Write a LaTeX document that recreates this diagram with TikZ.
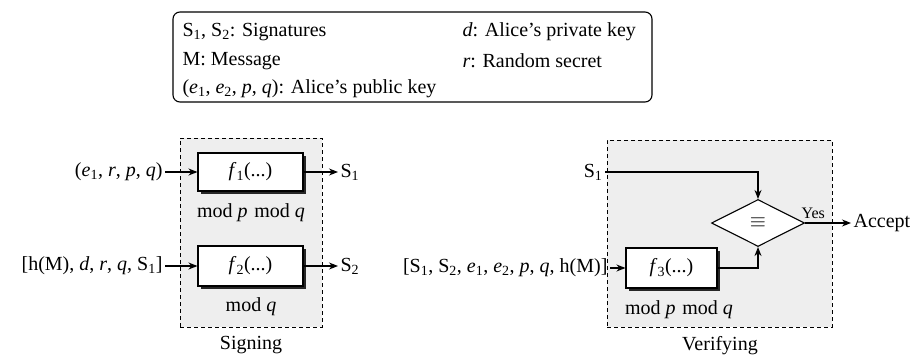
\documentclass[tikz,border=0pt]{standalone}
\usepackage{fontspec}
\setmainfont{Liberation Serif}
\usetikzlibrary{shapes.geometric, shadows, arrows.meta}

\newcommand{\vv}[1]{\textit{#1}}
\newcommand{\sub}[1]{\textsubscript{#1}}

\begin{document}
\begin{tikzpicture}[x=1pt, y=-1pt, >={Stealth[length=9pt, width=7pt]}, line width=1.1pt,
    font=\fontsize{20}{24}\selectfont,
    zone/.style={draw, line width=0.9pt, dash pattern=on 4pt off 3pt, fill=gray!13, inner sep=0},
    fbox/.style={draw, fill=white, inner sep=0, drop shadow={shadow xshift=3pt, shadow yshift=-3pt, fill=black!85, opacity=1}},
    lbl/.style={inner sep=2pt}]
    \useasboundingbox (0,0) rectangle (918,356);

    % legend
    \node[draw, rounded corners=7pt, minimum width=479, minimum height=90, inner sep=0] (legend) at (412.5,57) {};
    \node[lbl, anchor=west] (k1) at (180,32) {S\sub{1}, S\sub{2}: Signatures};
    \node[lbl, anchor=west] (k2) at (180,61) {M: Message};
    \node[lbl, anchor=west] (k3) at (180,89) {(\vv{e}\sub{1}, \vv{e}\sub{2}, \vv{p}, \vv{q}): Alice's public key};
    \node[lbl, anchor=west] (k4) at (460,32) {\vv{d}: Alice's private key};
    \node[lbl, anchor=west] (k5) at (460,61) {\vv{r}: Random secret};

    % signing
    \node[zone, minimum width=142, minimum height=189] (sign) at (251,232.5) {};
    \node (signlbl) at (251,345) {Signing};
    \node[fbox, minimum width=105, minimum height=38] (f1) at (250.5,172) {\vv{f}\sub{1}(...)};
    \node[fbox, minimum width=105, minimum height=40] (f2) at (250.5,266) {\vv{f}\sub{2}(...)};
    \node (m1) at (251,213) {mod \vv{p}\,\,mod \vv{q}};
    \node (m2) at (251,307) {mod \vv{q}};
    \node[lbl, anchor=east] (in1) at (165,172) {(\vv{e}\sub{1}, \vv{r}, \vv{p}, \vv{q})};
    \node[lbl, anchor=east] (in2) at (165,266) {[h(M), \vv{d}, \vv{r}, \vv{q}, S\sub{1}]};
    \node[lbl, anchor=west] (s1) at (338,172) {S\sub{1}};
    \node[lbl, anchor=west] (s2) at (338,266) {S\sub{2}};
    \draw[->] (in1) -- (f1);
    \draw[->] (in2) -- (f2);
    \draw[->] (f1) -- (s1);
    \draw[->] (f2) -- (s2);

    % verifying
    \node[zone, minimum width=225, minimum height=187] (verify) at (719.5,233.5) {};
    \node (verlbl) at (720,346) {Verifying};
    \node[draw, fill=white, diamond, minimum width=93, minimum height=47, inner sep=0] (eq) at (758,223) {$\equiv$};
    \node[fbox, minimum width=91, minimum height=40] (f3) at (671.5,268) {\vv{f}\sub{3}(...)};
    \node (m3) at (679,310) {mod \vv{p}\,\,mod \vv{q}};
    \node[lbl, anchor=east] (v1) at (605,172) {S\sub{1}};
    \node[lbl, anchor=east] (vin) at (610,268) {[S\sub{1}, S\sub{2}, \vv{e}\sub{1}, \vv{e}\sub{2}, \vv{p}, \vv{q}, h(M)]};
    \node[lbl, anchor=west] (acc) at (851,223) {Accept};
    \node[lbl, anchor=south west, yshift=2pt, xshift=-6pt, font=\fontsize{16}{18}\selectfont] (yes) at (eq.east) {Yes};
    \draw[->] (v1) -| (eq.north);
    \draw[->] (f3) -| (eq.south);
    \draw[->] (vin) -- (f3);
    \draw[->] (eq) -- (acc);
\end{tikzpicture}
\end{document}
